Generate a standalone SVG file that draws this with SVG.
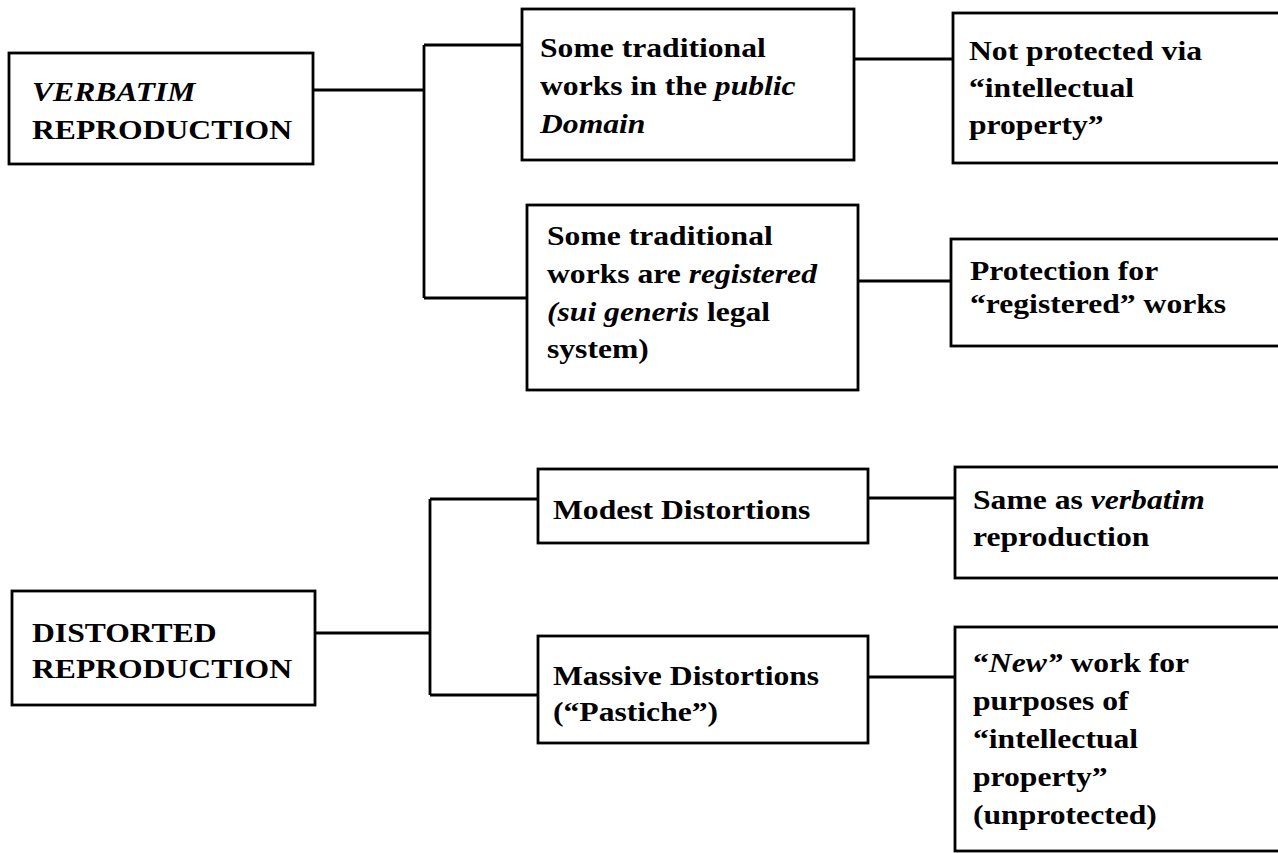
<svg xmlns="http://www.w3.org/2000/svg" width="1278" height="853" viewBox="0 0 1278 853">
<style>
.box{fill:#fff;stroke:#000;stroke-width:2.8}
.t{font-family:"Liberation Serif","Times New Roman",serif;font-weight:bold;font-size:28px;fill:#000}
.i{font-style:italic}
.c{fill:none;stroke:#000;stroke-width:2.8}
</style>
<rect width="1278" height="853" fill="#fff"/>
<g id="connectors">
<path class="c" d="M313 90H424M424 45V298M424 45H522M424 298H527"/>
<path class="c" d="M854 59H953M855 281H951"/>
<path class="c" d="M315 633H430M430 499V695M430 499H538M430 695H538"/>
<path class="c" d="M868 498H955M855 677H955"/>
</g>
<g id="verbatim">
<rect class="box" x="9" y="53" width="304" height="111"/>
<g transform="translate(32 0) scale(1.13 1)"><text class="t"><tspan class="i" x="0" y="101">VERBATIM</tspan><tspan x="0" y="139">REPRODUCTION</tspan></text></g>
</g>
<g id="public-domain">
<rect class="box" x="522" y="9" width="332" height="151"/>
<g transform="translate(540 0) scale(1.13 1)"><text class="t"><tspan x="0" y="57">Some traditional</tspan><tspan x="0" y="95">works in the <tspan class="i">public</tspan></tspan><tspan class="i" x="0" y="133">Domain</tspan></text></g>
</g>
<g id="not-protected">
<rect class="box" x="953" y="13" width="340" height="150"/>
<g transform="translate(969 0) scale(1.13 1)"><text class="t"><tspan x="0" y="60">Not protected via</tspan><tspan x="0" y="97">“intellectual</tspan><tspan x="0" y="134">property”</tspan></text></g>
</g>
<g id="registered">
<rect class="box" x="527" y="205" width="331" height="185"/>
<g transform="translate(547 0) scale(1.13 1)"><text class="t"><tspan x="0" y="245">Some traditional</tspan><tspan x="0" y="283">works are <tspan class="i">registered</tspan></tspan><tspan x="0" y="321"><tspan class="i">(sui generis</tspan> legal</tspan><tspan x="0" y="358">system)</tspan></text></g>
</g>
<g id="protection">
<rect class="box" x="951" y="239" width="340" height="107"/>
<g transform="translate(970 0) scale(1.13 1)"><text class="t"><tspan x="0" y="280">Protection for</tspan><tspan x="0" y="313">“registered” works</tspan></text></g>
</g>
<g id="distorted">
<rect class="box" x="12" y="591" width="303" height="114"/>
<g transform="translate(32 0) scale(1.13 1)"><text class="t"><tspan x="0" y="642">DISTORTED</tspan><tspan x="0" y="678">REPRODUCTION</tspan></text></g>
</g>
<g id="modest">
<rect class="box" x="538" y="469" width="330" height="74"/>
<g transform="translate(553 0) scale(1.13 1)"><text class="t"><tspan x="0" y="519">Modest Distortions</tspan></text></g>
</g>
<g id="massive">
<rect class="box" x="538" y="636" width="330" height="107"/>
<g transform="translate(553 0) scale(1.13 1)"><text class="t"><tspan x="0" y="685">Massive Distortions</tspan><tspan x="0" y="721">(“Pastiche”)</tspan></text></g>
</g>
<g id="same-as">
<rect class="box" x="955" y="467" width="340" height="111"/>
<g transform="translate(973 0) scale(1.13 1)"><text class="t"><tspan x="0" y="509">Same as <tspan class="i">verbatim</tspan></tspan><tspan x="0" y="546">reproduction</tspan></text></g>
</g>
<g id="new-work">
<rect class="box" x="955" y="627" width="340" height="224"/>
<g transform="translate(973 0) scale(1.13 1)"><text class="t"><tspan x="0" y="672">“<tspan class="i">New”</tspan> work for</tspan><tspan x="0" y="710">purposes of</tspan><tspan x="0" y="748">“intellectual</tspan><tspan x="0" y="786">property”</tspan><tspan x="0" y="824">(unprotected)</tspan></text></g>
</g>
</svg>
